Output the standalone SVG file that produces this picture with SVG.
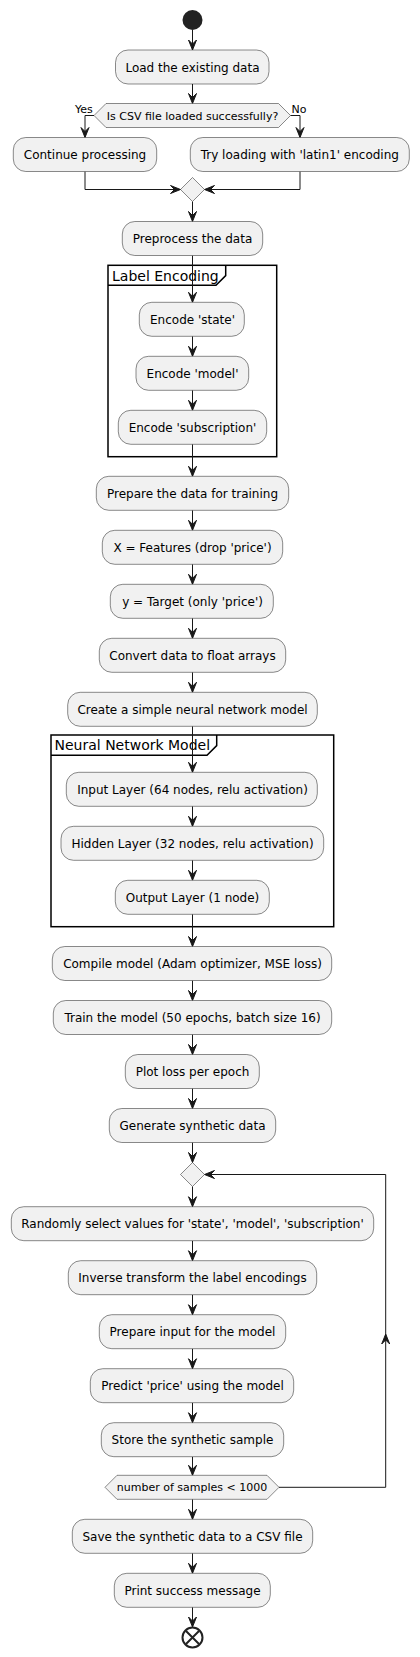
<svg xmlns="http://www.w3.org/2000/svg" width="420" height="1657" viewBox="0 0 420 1657">
<style>
.box{fill:#F1F1F1;stroke:#181818;stroke-width:0.5}
.t{font-family:"DejaVu Sans",sans-serif;font-size:12px;fill:#000;text-anchor:middle}
.s{font-family:"DejaVu Sans",sans-serif;font-size:11px;fill:#000}
.g{font-family:"DejaVu Sans",sans-serif;font-size:14px;fill:#000}
.frame{fill:none;stroke:#000;stroke-width:1.5}
.ln{fill:none;stroke:#181818;stroke-width:1}
.ah{fill:#181818;stroke:#181818;stroke-width:1}
</style>
<rect width="420" height="1657" fill="#FFFFFF"/>
<g id="groups">
<g id="grp-label-encoding">
<rect class="frame" x="108" y="265.3" width="168.7" height="191.4"/>
<path class="frame" d="M108,285.3 L216,285.3 L225.7,275.6 L225.7,265.3"/>
<text class="g" x="112" y="280.5">Label Encoding</text>
</g>
<g id="grp-nn">
<rect class="frame" x="51" y="735" width="282.7" height="191.7"/>
<path class="frame" d="M51,755.3 L207,755.3 L216.7,745.6 L216.7,735"/>
<text class="g" x="54.5" y="750.3">Neural Network Model</text>
</g>
</g>
<g id="connectors">
<path class="ln" d="M192.5,30 V50 M192.5,84 V103.5 M94,115.5 H85 V137.5 M290.5,115.5 H300 V137.5 M85,171.5 V189.5 H180.5 M300,171.5 V189.5 H204.5 M192.5,201.5 V221.5 M192.5,255.5 V302.3 M192.5,336.3 V356.3 M192.5,390.3 V410.3 M192.5,444.3 V476.3 M192.5,510.3 V530.3 M192.5,564.3 V584.3 M192.5,618.3 V638.3 M192.5,672.3 V692.3 M192.5,726.3 V772.3 M192.5,806.3 V826.3 M192.5,860.3 V880.3 M192.5,914.3 V946.5 M192.5,980.5 V1000.5 M192.5,1034.5 V1054.5 M192.5,1088.5 V1108.5 M192.5,1142.5 V1162.5 M192.5,1186.5 V1206.7 M192.5,1240.7 V1260.7 M192.5,1294.7 V1314.7 M192.5,1348.7 V1368.7 M192.5,1402.7 V1422.7 M192.5,1456.7 V1475.3 M192.5,1499.3 V1519.3 M192.5,1553.3 V1573.3 M192.5,1607.3 V1627 M279,1487.3 H385.7 V1174.5 H204.5"/>
<g class="ah">
<polygon points="188.5,40 192.5,50 196.5,40 192.5,44"/>
<polygon points="188.5,93.5 192.5,103.5 196.5,93.5 192.5,97.5"/>
<polygon points="81,127.5 85,137.5 89,127.5 85,131.5"/>
<polygon points="296,127.5 300,137.5 304,127.5 300,131.5"/>
<polygon points="170.5,185.5 180.5,189.5 170.5,193.5 174.5,189.5"/>
<polygon points="214.5,185.5 204.5,189.5 214.5,193.5 210.5,189.5"/>
<polygon points="188.5,211.5 192.5,221.5 196.5,211.5 192.5,215.5"/>
<polygon points="188.5,292.3 192.5,302.3 196.5,292.3 192.5,296.3"/>
<polygon points="188.5,346.3 192.5,356.3 196.5,346.3 192.5,350.3"/>
<polygon points="188.5,400.3 192.5,410.3 196.5,400.3 192.5,404.3"/>
<polygon points="188.5,466.3 192.5,476.3 196.5,466.3 192.5,470.3"/>
<polygon points="188.5,520.3 192.5,530.3 196.5,520.3 192.5,524.3"/>
<polygon points="188.5,574.3 192.5,584.3 196.5,574.3 192.5,578.3"/>
<polygon points="188.5,628.3 192.5,638.3 196.5,628.3 192.5,632.3"/>
<polygon points="188.5,682.3 192.5,692.3 196.5,682.3 192.5,686.3"/>
<polygon points="188.5,762.3 192.5,772.3 196.5,762.3 192.5,766.3"/>
<polygon points="188.5,816.3 192.5,826.3 196.5,816.3 192.5,820.3"/>
<polygon points="188.5,870.3 192.5,880.3 196.5,870.3 192.5,874.3"/>
<polygon points="188.5,936.5 192.5,946.5 196.5,936.5 192.5,940.5"/>
<polygon points="188.5,990.5 192.5,1000.5 196.5,990.5 192.5,994.5"/>
<polygon points="188.5,1044.5 192.5,1054.5 196.5,1044.5 192.5,1048.5"/>
<polygon points="188.5,1098.5 192.5,1108.5 196.5,1098.5 192.5,1102.5"/>
<polygon points="188.5,1152.5 192.5,1162.5 196.5,1152.5 192.5,1156.5"/>
<polygon points="188.5,1196.7 192.5,1206.7 196.5,1196.7 192.5,1200.7"/>
<polygon points="188.5,1250.7 192.5,1260.7 196.5,1250.7 192.5,1254.7"/>
<polygon points="188.5,1304.7 192.5,1314.7 196.5,1304.7 192.5,1308.7"/>
<polygon points="188.5,1358.7 192.5,1368.7 196.5,1358.7 192.5,1362.7"/>
<polygon points="188.5,1412.7 192.5,1422.7 196.5,1412.7 192.5,1416.7"/>
<polygon points="188.5,1465.3 192.5,1475.3 196.5,1465.3 192.5,1469.3"/>
<polygon points="188.5,1509.3 192.5,1519.3 196.5,1509.3 192.5,1513.3"/>
<polygon points="188.5,1563.3 192.5,1573.3 196.5,1563.3 192.5,1567.3"/>
<polygon points="188.5,1617 192.5,1627 196.5,1617 192.5,1621"/>
<polygon points="381.7,1344 385.7,1334 389.7,1344 385.7,1340"/>
<polygon points="214.5,1170.5 204.5,1174.5 214.5,1178.5 210.5,1174.5"/>
</g>
<text class="s" x="75" y="112.5">Yes</text>
<text class="s" x="291.5" y="112.5">No</text>
</g>
<g id="start"><circle cx="192.5" cy="20" r="10" fill="#222222"/></g>
<g id="n-load"><rect class="box" x="115.5" y="50" width="153.5" height="34" rx="12.5"/><text class="t" x="192.5" y="71.5">Load the existing data</text></g>
<g id="d-csv"><polygon class="box" points="94,115.5 106,103.5 278.5,103.5 290.5,115.5 278.5,127.5 106,127.5"/><text class="s" x="192.5" y="119.5" text-anchor="middle">Is CSV file loaded successfully?</text></g>
<g id="n-continue"><rect class="box" x="13.3" y="137.5" width="143.4" height="34" rx="12.5"/><text class="t" x="85" y="159">Continue processing</text></g>
<g id="n-latin1"><rect class="box" x="190.3" y="137.5" width="219" height="34" rx="12.5"/><text class="t" x="299.8" y="159">Try loading with 'latin1' encoding</text></g>
<g id="d-merge"><polygon class="box" points="192.5,177.5 204.5,189.5 192.5,201.5 180.5,189.5"/></g>
<g id="n-preprocess"><rect class="box" x="122.3" y="221.5" width="140.4" height="34" rx="12.5"/><text class="t" x="192.5" y="243">Preprocess the data</text></g>
<g id="n-enc-state"><rect class="box" x="139.3" y="302.3" width="105" height="34" rx="12.5"/><text class="t" x="192.5" y="323.8">Encode 'state'</text></g>
<g id="n-enc-model"><rect class="box" x="136" y="356.3" width="112.7" height="34" rx="12.5"/><text class="t" x="192.5" y="377.8">Encode 'model'</text></g>
<g id="n-enc-sub"><rect class="box" x="118.3" y="410.3" width="148.4" height="34" rx="12.5"/><text class="t" x="192.5" y="431.8">Encode 'subscription'</text></g>
<g id="n-prep-train"><rect class="box" x="96.3" y="476.3" width="192.4" height="34" rx="12.5"/><text class="t" x="192.5" y="497.8">Prepare the data for training</text></g>
<g id="n-x"><rect class="box" x="102.3" y="530.3" width="180.4" height="34" rx="12.5"/><text class="t" x="192.5" y="551.8">X = Features (drop 'price')</text></g>
<g id="n-y"><rect class="box" x="110.3" y="584.3" width="163" height="34" rx="12.5"/><text class="t" x="192.5" y="605.8">y = Target (only 'price')</text></g>
<g id="n-convert"><rect class="box" x="99.3" y="638.3" width="186.4" height="34" rx="12.5"/><text class="t" x="192.5" y="659.8">Convert data to float arrays</text></g>
<g id="n-create"><rect class="box" x="67.7" y="692.3" width="249.6" height="34" rx="12.5"/><text class="t" x="192.5" y="713.8">Create a simple neural network model</text></g>
<g id="n-input"><rect class="box" x="66.3" y="772.3" width="251" height="34" rx="12.5"/><text class="t" x="192.5" y="793.8">Input Layer (64 nodes, relu activation)</text></g>
<g id="n-hidden"><rect class="box" x="61" y="826.3" width="262.7" height="34" rx="12.5"/><text class="t" x="192.5" y="847.8">Hidden Layer (32 nodes, relu activation)</text></g>
<g id="n-output"><rect class="box" x="115.3" y="880.3" width="154" height="34" rx="12.5"/><text class="t" x="192.5" y="901.8">Output Layer (1 node)</text></g>
<g id="n-compile"><rect class="box" x="52.3" y="946.5" width="279.4" height="34" rx="12.5"/><text class="t" x="192.5" y="968">Compile model (Adam optimizer, MSE loss)</text></g>
<g id="n-train"><rect class="box" x="53.3" y="1000.5" width="278.4" height="34" rx="12.5"/><text class="t" x="192.5" y="1022">Train the model (50 epochs, batch size 16)</text></g>
<g id="n-plot"><rect class="box" x="125.3" y="1054.5" width="134" height="34" rx="12.5"/><text class="t" x="192.5" y="1076">Plot loss per epoch</text></g>
<g id="n-generate"><rect class="box" x="109.3" y="1108.5" width="166.4" height="34" rx="12.5"/><text class="t" x="192.5" y="1130">Generate synthetic data</text></g>
<g id="d-loop"><polygon class="box" points="192.5,1162.5 204.5,1174.5 192.5,1186.5 180.5,1174.5"/></g>
<g id="n-random"><rect class="box" x="11.3" y="1206.7" width="362.4" height="34" rx="12.5"/><text class="t" x="192.5" y="1228.2">Randomly select values for 'state', 'model', 'subscription'</text></g>
<g id="n-inverse"><rect class="box" x="68.3" y="1260.7" width="248.4" height="34" rx="12.5"/><text class="t" x="192.5" y="1282.2">Inverse transform the label encodings</text></g>
<g id="n-prep-input"><rect class="box" x="99.3" y="1314.7" width="186.4" height="34" rx="12.5"/><text class="t" x="192.5" y="1336.2">Prepare input for the model</text></g>
<g id="n-predict"><rect class="box" x="90.3" y="1368.7" width="203.4" height="34" rx="12.5"/><text class="t" x="192.5" y="1390.2">Predict 'price' using the model</text></g>
<g id="n-store"><rect class="box" x="101.3" y="1422.7" width="182.4" height="34" rx="12.5"/><text class="t" x="192.5" y="1444.2">Store the synthetic sample</text></g>
<g id="d-samples"><polygon class="box" points="105,1487.3 117,1475.3 267,1475.3 279,1487.3 267,1499.3 117,1499.3"/><text class="s" x="192" y="1491.3" text-anchor="middle">number of samples &lt; 1000</text></g>
<g id="n-save"><rect class="box" x="72.3" y="1519.3" width="240.4" height="34" rx="12.5"/><text class="t" x="192.5" y="1540.8">Save the synthetic data to a CSV file</text></g>
<g id="n-print"><rect class="box" x="114.3" y="1573.3" width="156" height="34" rx="12.5"/><text class="t" x="192.5" y="1594.8">Print success message</text></g>
<g id="end"><circle cx="192.5" cy="1637.5" r="10" fill="none" stroke="#222222" stroke-width="2"/><path d="M186,1631 L199,1644 M199,1631 L186,1644" stroke="#222222" stroke-width="2"/></g>
</svg>
